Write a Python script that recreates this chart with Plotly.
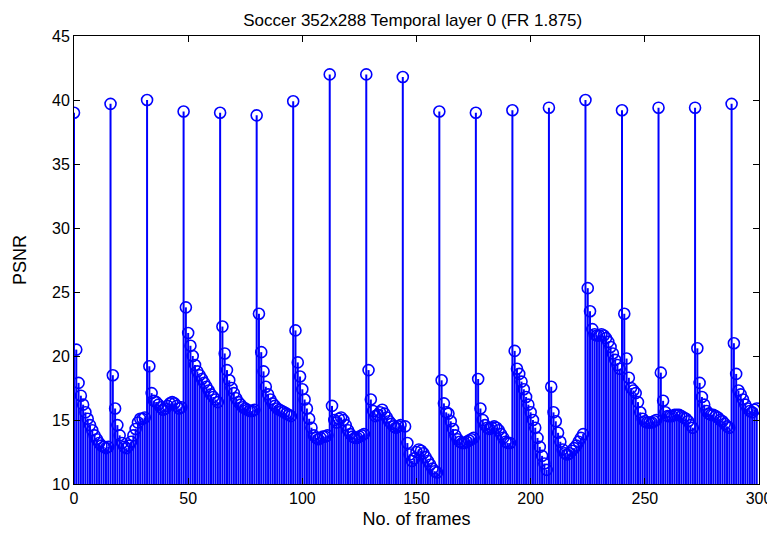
import plotly.graph_objects as go

# I-frame (every 16th frame) PSNR values
peak_frames = list(range(0, 300, 16))
peak_values = [39.0, 39.7, 40.0, 39.1, 39.0, 38.8, 39.9, 42.0, 42.0, 41.8,
               39.1, 39.0, 39.2, 39.4, 40.0, 39.2, 39.4, 39.4, 39.7]

# Values of the frames between the I-frames, one list per group
seg_values = [
    [20.5, 17.9, 16.9, 16.2, 15.6, 15.1, 14.6, 14.2, 13.8, 13.5, 13.2, 13.0, 12.9, 12.8, 12.9],
    [18.5, 15.9, 14.6, 13.8, 13.2, 12.9, 12.8, 13.0, 13.3, 13.8, 14.3, 14.8, 15.1, 15.1, 15.2],
    [19.2, 17.1, 16.5, 16.4, 16.2, 16.0, 15.8, 15.9, 16.1, 16.3, 16.4, 16.3, 16.1, 15.9, 16.0],
    [23.8, 21.8, 20.8, 20.0, 19.3, 18.8, 18.5, 18.2, 17.9, 17.6, 17.3, 17.0, 16.8, 16.6, 16.4],
    [22.3, 20.2, 18.9, 18.1, 17.5, 17.1, 16.7, 16.4, 16.2, 16.0, 15.9, 15.8, 15.7, 15.7, 15.8],
    [23.3, 20.3, 18.8, 17.6, 17.0, 16.6, 16.3, 16.1, 15.9, 15.8, 15.7, 15.6, 15.5, 15.4, 15.3],
    [22.0, 19.5, 18.4, 17.4, 16.6, 15.9, 15.1, 14.4, 13.8, 13.6, 13.5, 13.6, 13.7, 13.7, 13.8],
    [16.1, 15.0, 14.8, 15.1, 15.2, 15.0, 14.6, 14.2, 13.9, 13.7, 13.6, 13.6, 13.7, 13.8, 13.9],
    [18.9, 16.6, 15.7, 15.3, 15.4, 15.6, 15.8, 15.5, 15.2, 14.9, 14.7, 14.5, 14.4, 14.5, 14.6],
    [14.5, 13.2, 12.3, 11.8, 12.0, 12.5, 12.7, 12.6, 12.4, 12.1, 11.8, 11.5, 11.2, 11.0, 10.9],
    [18.1, 16.3, 15.6, 15.5, 14.9, 14.3, 13.8, 13.5, 13.3, 13.2, 13.2, 13.3, 13.4, 13.5, 13.6],
    [18.2, 15.9, 15.0, 14.6, 14.4, 14.3, 14.4, 14.5, 14.4, 14.2, 13.9, 13.6, 13.3, 13.2, 13.2],
    [20.4, 19.0, 18.6, 18.0, 17.4, 16.8, 16.2, 15.6, 15.0, 14.4, 13.6, 12.9, 12.2, 11.6, 11.1],
    [17.6, 15.6, 14.9, 14.0, 13.3, 12.7, 12.4, 12.3, 12.4, 12.6, 12.8, 13.0, 13.3, 13.6, 13.9],
    [25.3, 23.5, 22.1, 21.7, 21.6, 21.6, 21.7, 21.6, 21.4, 21.1, 20.7, 20.2, 19.7, 19.3, 19.0],
    [23.3, 19.8, 18.3, 17.5, 17.3, 17.1, 16.4, 15.6, 15.1, 14.9, 14.8, 14.8, 14.8, 14.9, 15.0],
    [18.7, 16.5, 15.6, 15.3, 15.3, 15.3, 15.4, 15.4, 15.4, 15.3, 15.2, 15.1, 14.9, 14.6, 14.4],
    [20.6, 17.9, 16.8, 16.2, 15.7, 15.5, 15.4, 15.4, 15.3, 15.2, 15.0, 14.9, 14.7, 14.5, 14.4],
    [21.0, 18.6, 17.3, 17.0, 16.6, 16.2, 15.9, 15.7, 15.6, 15.8, 15.9],
]

x_ticks = [0, 50, 100, 150, 200, 250, 300]
y_ticks = [10, 15, 20, 25, 30, 35, 40, 45]
baseline = 10

frames = []
psnr = []
for pf, pv, seg in zip(peak_frames, peak_values, seg_values):
    frames.append(pf)
    psnr.append(pv)
    for i, v in enumerate(seg):
        frames.append(pf + 1 + i)
        psnr.append(v)

blue = "#0000FF"
font_family = "Liberation Sans, Arial, sans-serif"
fig = go.Figure()
fig.add_trace(go.Scatter(
    x=frames, y=psnr, mode="markers",
    marker=dict(symbol="circle-open", size=11, color=blue, line=dict(width=1.6, color=blue)),
    error_y=dict(type="data", symmetric=False, array=[0] * len(psnr),
                 arrayminus=[v - baseline for v in psnr],
                 color=blue, thickness=2, width=0),
    showlegend=False,
))

axis_common = dict(showline=True, linecolor="black", linewidth=1, mirror="ticks",
                   ticks="inside", ticklen=6, tickcolor="black", showgrid=False,
                   zeroline=False, automargin=False,
                   tickfont=dict(family=font_family, size=16, color="black"))

fig.update_layout(
    width=768, height=526,
    margin=dict(l=66, r=17, t=28, b=50, autoexpand=False),
    paper_bgcolor="white", plot_bgcolor="white",
    title=dict(text="Soccer 352x288 Temporal layer 0 (FR 1.875)", x=0.527, xanchor="center",
               y=0.988, yanchor="top",
               font=dict(family=font_family, size=17, color="black")),
    xaxis=dict(range=[0, 300], tickvals=x_ticks,
               title=dict(text="No. of frames", standoff=6,
                          font=dict(family=font_family, size=18, color="black")),
               **axis_common),
    yaxis=dict(range=[10, 45], tickvals=y_ticks,
               title=dict(text="PSNR", standoff=20,
                          font=dict(family=font_family, size=18, color="black")),
               **axis_common),
)

fig.write_html("out.html")
